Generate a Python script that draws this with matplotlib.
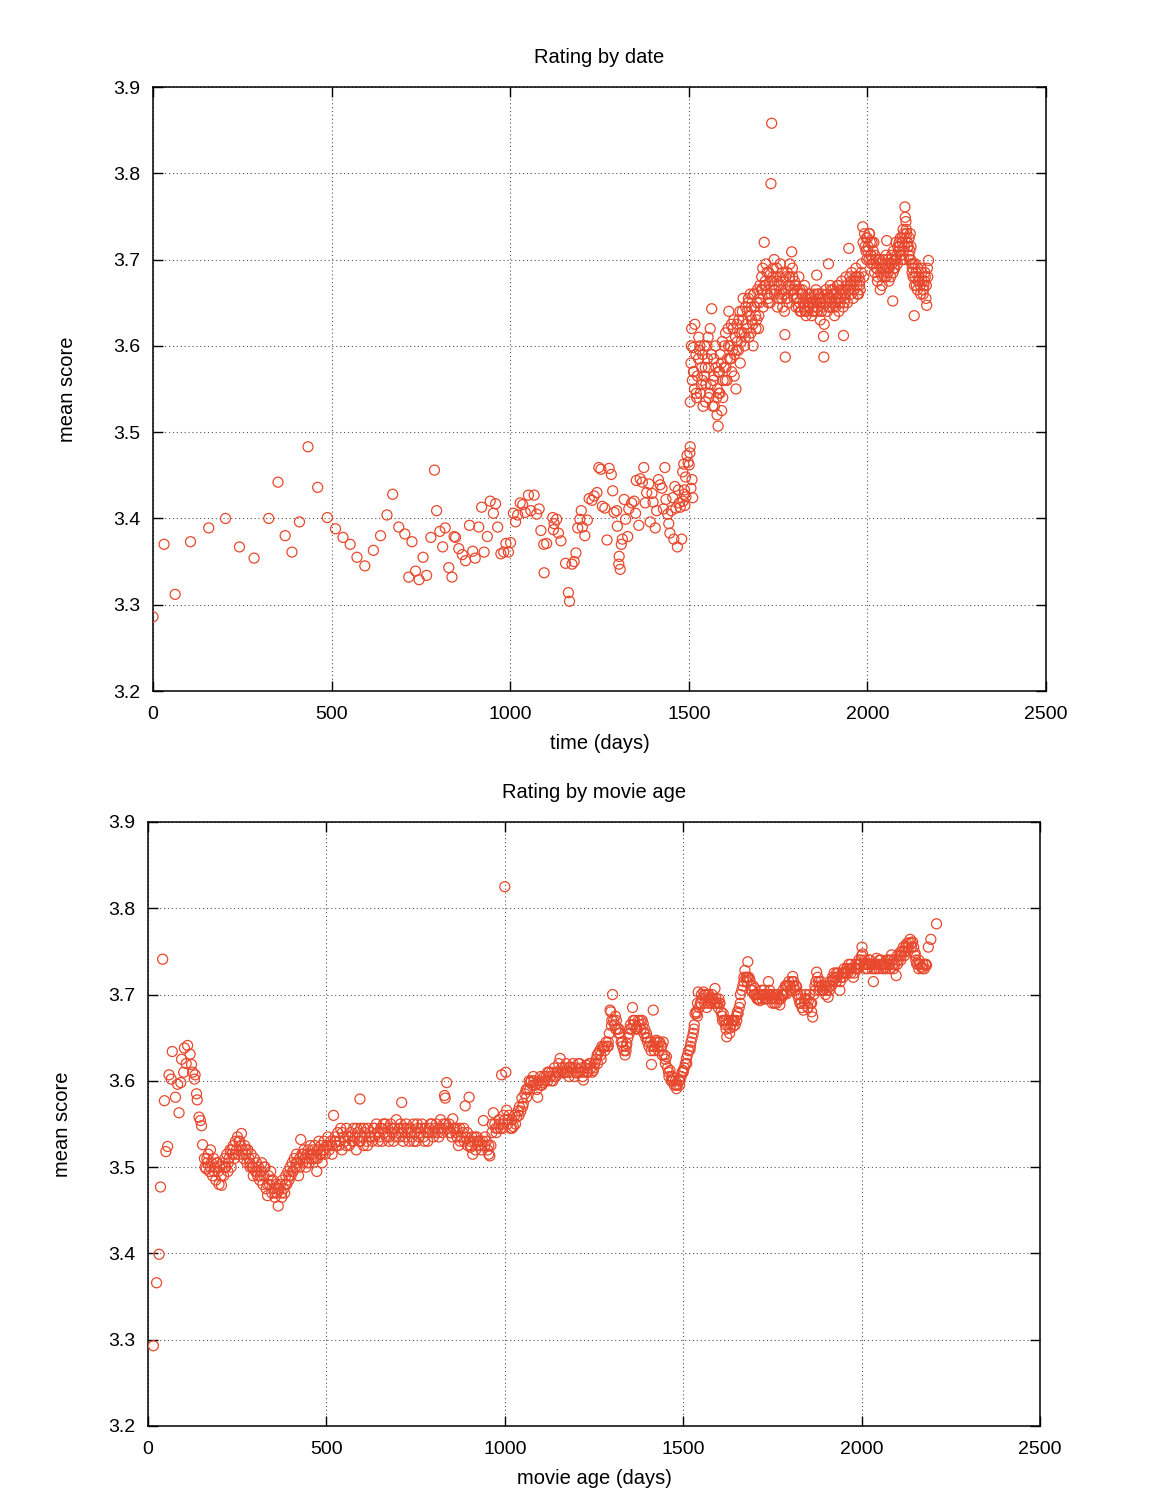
import matplotlib
matplotlib.use("Agg")
import matplotlib.pyplot as plt

# ---------------- Rating by date ----------------
date_days = [
    0, 31, 62, 105, 156, 203, 242, 283, 324, 350, 370, 389, 410, 434, 461, 488, 511, 532, 552, 571,
    593, 617, 637, 655, 671, 688, 705, 716, 725, 735, 745, 756, 766, 778, 788, 794, 803, 811, 818, 828,
    837, 843, 847, 856, 866, 875, 886, 895, 902, 912, 920, 927, 936, 944, 953, 959, 965, 974, 982, 988,
    995, 1001, 1009, 1015, 1021, 1028, 1035, 1042, 1051, 1058, 1067, 1074, 1081, 1086, 1094, 1095, 1102, 1119, 1121, 1123,
    1130, 1135, 1142, 1155, 1163, 1166, 1173, 1179, 1184, 1189, 1195, 1199, 1202, 1209, 1216, 1221, 1229, 1235, 1243, 1248,
    1254, 1258, 1265, 1271, 1277, 1283, 1287, 1291, 1298, 1300, 1304, 1305, 1308, 1311, 1314, 1319, 1323, 1329, 1332, 1340,
    1347, 1351, 1353, 1360, 1364, 1370, 1374, 1378, 1382, 1388, 1392, 1397, 1400, 1406, 1410, 1415, 1420, 1425, 1429, 1433,
    1436, 1441, 1444, 1447, 1451, 1455, 1458, 1461, 1464, 1468, 1471, 1473, 1476, 1480, 1483, 1484, 1486, 1487, 1488, 1489,
    1491, 1492, 1495, 1498, 1501, 1503, 1504, 1506, 1509, 1511,
    1504, 1506, 1508, 1510, 1512, 1516, 1520, 1524, 1528, 1532, 1536, 1540, 1544, 1548, 1552, 1556, 1560, 1564, 1568, 1572,
    1576, 1580, 1582, 1584, 1588, 1592, 1596, 1600, 1604, 1608, 1612, 1616, 1620, 1624, 1628, 1632, 1636, 1640, 1644, 1648,
    1652, 1656, 1660, 1664, 1668, 1672, 1676, 1680, 1684, 1688, 1692, 1696, 1700, 1704, 1708, 1711, 1712, 1716, 1720, 1724,
    1728, 1730, 1732, 1733, 1736, 1740, 1744, 1748, 1752, 1756, 1760, 1764, 1768, 1769, 1770, 1772, 1776, 1780, 1784, 1788,
    1790, 1792, 1796, 1800, 1804, 1808, 1812, 1816, 1820, 1824, 1828, 1832, 1836, 1840, 1844, 1848, 1852, 1856, 1858, 1860,
    1864, 1868, 1872, 1876, 1877, 1878, 1884, 1888, 1891, 1892, 1896, 1900, 1904, 1908, 1912, 1916, 1920, 1924, 1928, 1932,
    1933, 1936, 1940, 1944, 1948, 1952, 1956, 1960, 1964, 1968, 1972, 1976, 1980, 1984, 1987, 1988, 1992, 1996, 2000, 2004,
    2008, 2012, 2016, 2020, 2024, 2028, 2032, 2036, 2040, 2044, 2048, 2052, 2054, 2056, 2060, 2064, 2068, 2071, 2072, 2076,
    2080, 2084, 2088, 2092, 2096, 2100, 2104, 2105, 2106, 2108, 2112, 2116, 2120, 2124, 2128, 2131, 2132, 2136, 2140, 2144,
    2148, 2152, 2156, 2160, 2164, 2166, 2168, 2171,
    1514, 1522, 1530, 1538, 1546, 1554, 1562, 1570, 1578, 1586, 1594, 1602, 1610, 1618, 1626, 1634, 1642, 1650, 1658, 1666,
    1674, 1682, 1690, 1698, 1706, 1714, 1722, 1738, 1746, 1754, 1762, 1774, 1782, 1794, 1802, 1810, 1818, 1826, 1834, 1842,
    1850, 1862, 1870, 1882, 1894, 1902, 1910, 1918, 1926, 1938, 1946, 1954, 1962, 1970, 1978, 1990, 1998, 2002, 2006, 2010,
    2014, 2018, 2026, 2034, 2042, 2050, 2058, 2066, 2074, 2082, 2090, 2094, 2098, 2102, 2110, 2114, 2118, 2122, 2126, 2134,
    2142, 2150, 2158, 2162,
    1507, 1513, 1517, 1521, 1527, 1531, 1535, 1539, 1543, 1547, 1551, 1555, 1559, 1563, 1567, 1571, 1575, 1579, 1583, 1587,
    1591, 1595, 1599, 1603, 1607, 1611, 1615, 1619, 1623, 1627, 1631, 1635, 1639, 1643, 1647, 1651, 1655, 1659, 1663, 1667,
    1671, 1675, 1679, 1683, 1687, 1691, 1695, 1699, 1703, 1707, 1715, 1719, 1723, 1727, 1731, 1735, 1739, 1743, 1747, 1751,
    1755, 1759, 1763, 1767, 1771, 1775, 1779, 1783, 1787, 1791, 1795, 1799, 1803, 1807, 1811, 1815, 1819, 1823, 1827, 1831,
    1835, 1839, 1843, 1847, 1851, 1855, 1859, 1863, 1867, 1871, 1875, 1879, 1883, 1887, 1891, 1895, 1899, 1903, 1907, 1911,
    1915, 1919, 1923, 1927, 1931, 1935, 1939, 1943, 1947, 1951, 1955, 1959, 1963, 1967, 1971, 1975, 1979, 1983, 1993, 1997,
    2001, 2005, 2009, 2013, 2017, 2021, 2025, 2029, 2033, 2037, 2041, 2045, 2049, 2053, 2057, 2061, 2065, 2069, 2073, 2077,
    2081, 2085, 2089, 2093, 2097, 2101, 2103, 2107, 2109, 2113, 2117, 2119, 2121, 2125, 2129, 2133, 2137, 2141, 2145, 2149,
    2153, 2157, 2161, 2165, 2169,
]
date_scores = [
    3.286, 3.370, 3.312, 3.373, 3.389, 3.400, 3.367, 3.354, 3.400, 3.442, 3.380, 3.361, 3.396, 3.483, 3.436, 3.401, 3.388, 3.378, 3.370, 3.355,
    3.345, 3.363, 3.380, 3.404, 3.428, 3.390, 3.382, 3.332, 3.373, 3.339, 3.329, 3.355, 3.334, 3.378, 3.456, 3.409, 3.385, 3.367, 3.389, 3.343,
    3.332, 3.379, 3.378, 3.365, 3.358, 3.351, 3.392, 3.362, 3.354, 3.390, 3.413, 3.361, 3.379, 3.420, 3.406, 3.417, 3.390, 3.359, 3.361, 3.371,
    3.361, 3.372, 3.406, 3.396, 3.404, 3.418, 3.416, 3.407, 3.427, 3.409, 3.427, 3.405, 3.411, 3.386, 3.370, 3.337, 3.371, 3.401, 3.387, 3.394,
    3.399, 3.383, 3.374, 3.348, 3.314, 3.304, 3.347, 3.350, 3.360, 3.389, 3.399, 3.409, 3.390, 3.380, 3.398, 3.423, 3.421, 3.426, 3.430, 3.459,
    3.457, 3.414, 3.412, 3.375, 3.458, 3.451, 3.432, 3.407, 3.409, 3.391, 3.347, 3.356, 3.341, 3.370, 3.376, 3.422, 3.399, 3.379, 3.411, 3.418,
    3.420, 3.406, 3.444, 3.392, 3.446, 3.442, 3.459, 3.418, 3.430, 3.440, 3.396, 3.429, 3.419, 3.389, 3.409, 3.445, 3.439, 3.435, 3.411, 3.459,
    3.422, 3.405, 3.394, 3.383, 3.409, 3.424, 3.376, 3.437, 3.412, 3.367, 3.433, 3.418, 3.413, 3.376, 3.454, 3.420, 3.463, 3.428, 3.433, 3.415,
    3.448, 3.425, 3.473, 3.465, 3.462, 3.476, 3.483, 3.435, 3.445, 3.424,
    3.535, 3.580, 3.620, 3.560, 3.598, 3.550, 3.590, 3.565, 3.610, 3.545, 3.575, 3.530, 3.600, 3.556, 3.585, 3.540, 3.620, 3.643, 3.560, 3.530,
    3.575, 3.550, 3.507, 3.545, 3.590, 3.525, 3.560, 3.600, 3.575, 3.585, 3.640, 3.600, 3.570, 3.620, 3.590, 3.550, 3.605, 3.630, 3.580, 3.615,
    3.655, 3.600, 3.625, 3.640, 3.610, 3.660, 3.630, 3.600, 3.645, 3.620, 3.665, 3.635, 3.655, 3.680, 3.645, 3.720, 3.670, 3.695, 3.660, 3.685,
    3.650, 3.788, 3.858, 3.675, 3.690, 3.660, 3.680, 3.645, 3.670, 3.695, 3.655, 3.675, 3.640, 3.613, 3.587, 3.665, 3.685, 3.650, 3.670, 3.709,
    3.690, 3.660, 3.675, 3.645, 3.665, 3.680, 3.640, 3.660, 3.650, 3.670, 3.635, 3.655, 3.645, 3.660, 3.635, 3.650, 3.640, 3.665, 3.682, 3.645,
    3.655, 3.630, 3.660, 3.645, 3.611, 3.587, 3.665, 3.640, 3.695, 3.655, 3.670, 3.650, 3.665, 3.635, 3.655, 3.670, 3.640, 3.660, 3.675, 3.645,
    3.612, 3.665, 3.680, 3.650, 3.713, 3.670, 3.685, 3.655, 3.675, 3.690, 3.660, 3.680, 3.665, 3.695, 3.738, 3.720, 3.730, 3.710, 3.725, 3.700,
    3.720, 3.695, 3.710, 3.685, 3.700, 3.675, 3.695, 3.665, 3.690, 3.700, 3.680, 3.705, 3.722, 3.690, 3.675, 3.695, 3.705, 3.652, 3.685, 3.700,
    3.720, 3.695, 3.710, 3.725, 3.700, 3.735, 3.715, 3.761, 3.749, 3.744, 3.720, 3.705, 3.730, 3.695, 3.680, 3.635, 3.670, 3.685, 3.665, 3.680,
    3.670, 3.685, 3.660, 3.675, 3.655, 3.647, 3.690, 3.699,
    3.570, 3.540, 3.595, 3.560, 3.575, 3.610, 3.555, 3.585, 3.540, 3.570, 3.605, 3.560, 3.620, 3.585, 3.630, 3.595, 3.615, 3.640, 3.610, 3.650,
    3.615, 3.660, 3.630, 3.650, 3.665, 3.675, 3.650, 3.665, 3.690, 3.660, 3.685, 3.655, 3.680, 3.665, 3.655, 3.650, 3.665, 3.640, 3.650, 3.655,
    3.645, 3.660, 3.650, 3.655, 3.645, 3.660, 3.650, 3.655, 3.665, 3.655, 3.665, 3.675, 3.665, 3.680, 3.670, 3.680, 3.700, 3.715, 3.730, 3.705,
    3.700, 3.720, 3.690, 3.700, 3.680, 3.695, 3.685, 3.700, 3.690, 3.705, 3.715, 3.705, 3.720, 3.700, 3.730, 3.715, 3.700, 3.715, 3.690, 3.695,
    3.675, 3.690, 3.670, 3.680,
    3.600, 3.570, 3.625, 3.545, 3.585, 3.600, 3.555, 3.590, 3.565, 3.535, 3.600, 3.575, 3.545, 3.590, 3.530, 3.565, 3.600, 3.520, 3.570, 3.545,
    3.580, 3.540, 3.575, 3.615, 3.560, 3.600, 3.585, 3.625, 3.595, 3.565, 3.610, 3.625, 3.595, 3.640, 3.605, 3.630, 3.615, 3.645, 3.620, 3.655,
    3.635, 3.645, 3.625, 3.660, 3.635, 3.650, 3.620, 3.670, 3.665, 3.690, 3.670, 3.685, 3.655, 3.675, 3.660, 3.680, 3.700, 3.665, 3.675, 3.655,
    3.680, 3.665, 3.645, 3.660, 3.680, 3.655, 3.670, 3.695, 3.665, 3.680, 3.655, 3.670, 3.655, 3.645, 3.665, 3.640, 3.660, 3.645, 3.655, 3.640,
    3.660, 3.650, 3.655, 3.640, 3.660, 3.650, 3.640, 3.660, 3.650, 3.640, 3.655, 3.625, 3.650, 3.660, 3.645, 3.655, 3.665, 3.645, 3.660, 3.645,
    3.660, 3.670, 3.650, 3.655, 3.665, 3.650, 3.660, 3.670, 3.665, 3.680, 3.660, 3.675, 3.665, 3.680, 3.670, 3.660, 3.675, 3.685, 3.715, 3.725,
    3.710, 3.730, 3.705, 3.720, 3.695, 3.705, 3.690, 3.680, 3.700, 3.685, 3.670, 3.690, 3.695, 3.680, 3.700, 3.690, 3.680, 3.695, 3.710, 3.690,
    3.700, 3.715, 3.720, 3.705, 3.725, 3.710, 3.730, 3.725, 3.735, 3.715, 3.725, 3.710, 3.700, 3.685, 3.695, 3.680, 3.670, 3.690, 3.675, 3.660,
    3.675, 3.665, 3.685, 3.670, 3.680,
]

# ---------------- Rating by movie age ----------------
age_days = [
    15, 24, 31, 35, 41, 46, 50, 55, 59, 65, 68, 77, 83, 87, 92, 94, 100, 102, 107, 111,
    118, 122, 125, 130, 132, 136, 138, 143, 147, 150, 153, 158, 160, 163, 166, 169, 172, 175, 178, 181,
    184, 187, 190, 193, 196, 199, 202, 206, 209, 212, 215, 218, 221, 224, 227, 230, 233, 236, 239, 242,
    245, 248, 251, 254, 257, 260, 262, 265, 268, 271, 274, 277, 280, 283, 286, 289, 292, 295, 298, 301,
    304, 307, 310, 313, 316, 319, 322, 325, 328, 331, 335, 338, 341, 344, 347, 350, 353, 356, 359, 362,
    365, 368, 371, 374, 377, 380, 383, 386, 389, 392, 395, 398, 401, 404, 407, 410, 413, 416, 419, 422,
    425, 428, 431, 434, 437, 440, 443, 446, 449, 452, 455, 458, 461, 464, 467, 470, 473, 476, 479, 482,
    485, 488, 491, 494, 497, 500, 504, 508, 512, 516, 520, 524, 528, 532, 536, 540, 544, 548, 552, 556,
    560, 564, 568, 572, 576, 580, 584, 588, 592, 594, 596, 600, 604, 608, 612, 616, 620, 624, 628, 632,
    636, 640, 644, 648, 652, 656, 660, 664, 668, 672, 676, 680, 684, 688, 692, 696, 700, 704, 708, 711,
    712, 716, 720, 724, 728, 732, 736, 740, 744, 748, 752, 756, 760, 764, 768, 772, 776, 780, 784, 788,
    792, 796, 800, 804, 808, 812, 816, 820, 824, 828, 831, 833, 837, 840, 844, 848, 852, 854, 858, 862,
    866, 870, 874, 878, 882, 886, 889, 892, 896, 900, 902, 904, 908, 910, 914, 918, 922, 926, 930, 934,
    938, 940, 944, 948, 952, 955, 958, 961, 964, 968, 972, 976, 980, 984, 988, 991, 994, 997, 1000, 1001,
    1003, 1005, 1008, 1012, 1016, 1020, 1024, 1028, 1033, 1037, 1041, 1045, 1048, 1052, 1056, 1061, 1064, 1068, 1071, 1074,
    1078, 1082, 1086, 1090, 1092, 1096, 1100, 1104, 1108, 1112, 1116, 1120, 1124, 1127, 1131, 1135, 1139, 1143, 1147, 1151,
    1155, 1159, 1164, 1168, 1172, 1176, 1180, 1183, 1187, 1191, 1195, 1199, 1202, 1206, 1210, 1214, 1218, 1220, 1224, 1229,
    1233, 1237, 1241, 1245, 1248, 1252, 1256, 1259, 1262, 1266, 1269, 1272, 1276, 1280, 1284, 1287, 1290, 1293, 1295, 1297,
    1299, 1302, 1305, 1308, 1311, 1313, 1316, 1319, 1323, 1326, 1330, 1334, 1337, 1340, 1342, 1345, 1349, 1352, 1355, 1358,
    1361, 1364, 1367, 1370, 1374, 1378, 1382, 1385, 1388, 1392, 1395, 1397, 1400, 1404, 1408, 1411, 1414, 1416, 1419, 1422,
    1425, 1428, 1431, 1434, 1438, 1441, 1444, 1447, 1450, 1453, 1456, 1459, 1463, 1466, 1469, 1472, 1475, 1478, 1481, 1484,
    1488, 1491, 1494, 1497, 1500, 1503, 1506, 1509, 1512, 1515, 1519, 1522, 1525, 1528, 1531, 1533, 1536, 1538, 1540, 1542,
    1545, 1548, 1551, 1554, 1557, 1560, 1563, 1566, 1569, 1572, 1575, 1578, 1581, 1584, 1587, 1589, 1592, 1595, 1598, 1601,
    1603, 1606, 1609, 1612, 1615, 1618, 1620, 1622, 1625, 1628, 1631, 1634, 1637, 1640, 1643, 1646, 1649, 1652, 1654, 1657,
    1660, 1664, 1667, 1670, 1673, 1676, 1679, 1681, 1684, 1687, 1690, 1693, 1696, 1699, 1701, 1704, 1707, 1710, 1713, 1715,
    1718, 1721, 1724, 1727, 1730, 1733, 1736, 1739, 1742, 1745, 1748, 1751, 1753, 1756, 1759, 1762, 1765, 1768, 1771, 1774,
    1777, 1780, 1783, 1786, 1790, 1793, 1796, 1799, 1802, 1805, 1807, 1810, 1813, 1816, 1818, 1821, 1824, 1827, 1830, 1833,
    1837, 1840, 1843, 1846, 1849, 1851, 1854, 1857, 1860, 1863, 1866, 1869, 1872, 1874, 1877, 1880, 1883, 1886, 1889, 1893,
    1896, 1899, 1903, 1906, 1909, 1912, 1915, 1918, 1920, 1923, 1926, 1929, 1932, 1935, 1939, 1942, 1945, 1948, 1951, 1955,
    1958, 1961, 1964, 1967, 1970, 1973, 1977, 1980, 1983, 1986, 1989, 1992, 1995, 1998, 2001, 2003, 2006, 2009, 2012, 2014,
    2017, 2020, 2023, 2026, 2029, 2033, 2036, 2039, 2042, 2045, 2048, 2051, 2054, 2057, 2060, 2063, 2066, 2069, 2072, 2075,
    2078, 2081, 2084, 2087, 2090, 2093, 2097, 2100, 2103, 2106, 2108, 2111, 2114, 2117, 2120, 2123, 2126, 2129, 2132, 2136,
    2139, 2143, 2146, 2150, 2152, 2154, 2157, 2160, 2164, 2168, 2172, 2176, 2179, 2182, 2187, 2194, 2210,
    165, 175, 185, 195, 205, 215, 225, 235, 245, 255, 265, 275, 285, 295, 305, 315, 325, 335, 345, 355,
    365, 375, 385, 395, 405, 415, 425, 435, 445, 455, 465, 475, 485, 495, 505, 515, 525, 535, 545, 555,
    565, 575, 585, 595, 605, 615, 625, 635, 645, 655, 665, 675, 685, 695, 705, 715, 725, 735, 745, 755,
    765, 775, 785, 795, 805, 815, 825, 835, 845, 855, 865, 875, 885, 895, 905, 915, 925, 935, 945, 955,
    965, 975, 985, 995, 1010, 1020, 1030, 1040, 1050, 1060, 1070, 1080, 1090, 1100, 1110, 1120, 1130, 1140, 1150, 1160,
    1170, 1180, 1190, 1200, 1210, 1220, 1230, 1240, 1250, 1260, 1270, 1280, 1290, 1300, 1310, 1320, 1330, 1340, 1350, 1360,
    1370, 1380, 1390, 1400, 1410, 1420, 1430, 1440, 1450, 1460, 1470, 1480, 1490, 1500, 1510, 1520, 1530, 1540, 1550, 1560,
    1570, 1580, 1590, 1600, 1610, 1620, 1630, 1640, 1650, 1660, 1670, 1680, 1690, 1700, 1710, 1720, 1730, 1740, 1750, 1760,
    1770, 1780, 1790, 1800, 1810, 1820, 1830, 1840, 1850, 1860, 1870, 1880, 1890, 1900, 1910, 1920, 1930, 1940, 1950, 1960,
    1970, 1980, 1990, 2000, 2010, 2020, 2030, 2040, 2050, 2060, 2070, 2080, 2090, 2100, 2110, 2120, 2130, 2140, 2150, 2160,
    2170, 2180,
]
age_scores = [
    3.293, 3.366, 3.399, 3.477, 3.741, 3.577, 3.518, 3.524, 3.607, 3.602, 3.634, 3.581, 3.596, 3.563, 3.598, 3.625, 3.610, 3.638, 3.620, 3.641,
    3.631, 3.619, 3.610, 3.602, 3.607, 3.585, 3.578, 3.558, 3.554, 3.548, 3.526, 3.510, 3.500, 3.498, 3.505, 3.515, 3.495, 3.520, 3.505, 3.490,
    3.510, 3.500, 3.485, 3.505, 3.495, 3.480, 3.500, 3.479, 3.505, 3.490, 3.510, 3.500, 3.515, 3.495, 3.510, 3.520, 3.500, 3.515, 3.525, 3.510,
    3.530, 3.520, 3.535, 3.515, 3.530, 3.525, 3.539, 3.520, 3.510, 3.525, 3.515, 3.505, 3.520, 3.510, 3.500, 3.515, 3.500, 3.490, 3.510, 3.495,
    3.505, 3.490, 3.500, 3.485, 3.495, 3.505, 3.480, 3.490, 3.500, 3.475, 3.467, 3.490, 3.480, 3.495, 3.470, 3.485, 3.475, 3.465, 3.480, 3.470,
    3.455, 3.475, 3.480, 3.470, 3.485, 3.475, 3.470, 3.490, 3.480, 3.495, 3.485, 3.500, 3.490, 3.505, 3.495, 3.510, 3.500, 3.515, 3.505, 3.490,
    3.510, 3.532, 3.515, 3.505, 3.520, 3.510, 3.500, 3.515, 3.520, 3.505, 3.525, 3.510, 3.520, 3.515, 3.525, 3.510, 3.495, 3.520, 3.530, 3.515,
    3.525, 3.505, 3.520, 3.530, 3.515, 3.525, 3.535, 3.520, 3.530, 3.515, 3.560, 3.535, 3.525, 3.540, 3.530, 3.545, 3.520, 3.535, 3.530, 3.545,
    3.535, 3.525, 3.540, 3.530, 3.545, 3.535, 3.520, 3.540, 3.530, 3.579, 3.545, 3.535, 3.525, 3.540, 3.530, 3.545, 3.535, 3.540, 3.530, 3.545,
    3.535, 3.550, 3.540, 3.535, 3.545, 3.530, 3.550, 3.540, 3.535, 3.545, 3.535, 3.550, 3.540, 3.530, 3.545, 3.555, 3.540, 3.535, 3.550, 3.575,
    3.540, 3.545, 3.535, 3.550, 3.540, 3.530, 3.545, 3.535, 3.550, 3.540, 3.530, 3.545, 3.535, 3.540, 3.550, 3.535, 3.545, 3.540, 3.530, 3.545,
    3.550, 3.540, 3.535, 3.545, 3.550, 3.540, 3.545, 3.555, 3.545, 3.550, 3.583, 3.580, 3.598, 3.545, 3.550, 3.540, 3.535, 3.556, 3.545, 3.540,
    3.535, 3.525, 3.545, 3.535, 3.540, 3.530, 3.571, 3.535, 3.525, 3.581, 3.530, 3.523, 3.535, 3.515, 3.530, 3.520, 3.535, 3.525, 3.530, 3.520,
    3.530, 3.554, 3.525, 3.530, 3.520, 3.515, 3.513, 3.525, 3.540, 3.563, 3.550, 3.540, 3.545, 3.555, 3.545, 3.607, 3.550, 3.560, 3.825, 3.555,
    3.610, 3.566, 3.550, 3.560, 3.545, 3.555, 3.547, 3.560, 3.558, 3.565, 3.570, 3.565, 3.580, 3.574, 3.585, 3.581, 3.590, 3.600, 3.598, 3.600,
    3.595, 3.600, 3.595, 3.597, 3.581, 3.600, 3.605, 3.595, 3.598, 3.600, 3.605, 3.600, 3.610, 3.605, 3.610, 3.600, 3.615, 3.605, 3.610, 3.620,
    3.626, 3.610, 3.609, 3.615, 3.620, 3.610, 3.615, 3.616, 3.610, 3.620, 3.605, 3.615, 3.609, 3.620, 3.610, 3.615, 3.605, 3.601, 3.615, 3.618,
    3.610, 3.620, 3.615, 3.610, 3.612, 3.620, 3.625, 3.630, 3.632, 3.635, 3.630, 3.640, 3.639, 3.640, 3.645, 3.640, 3.645, 3.655, 3.682, 3.680,
    3.664, 3.700, 3.670, 3.665, 3.660, 3.670, 3.660, 3.655, 3.655, 3.645, 3.640, 3.635, 3.630, 3.640, 3.643, 3.650, 3.655, 3.665, 3.660, 3.685,
    3.665, 3.670, 3.660, 3.663, 3.670, 3.665, 3.660, 3.670, 3.666, 3.660, 3.650, 3.655, 3.645, 3.640, 3.645, 3.619, 3.640, 3.682, 3.635, 3.645,
    3.647, 3.640, 3.635, 3.645, 3.640, 3.630, 3.645, 3.630, 3.620, 3.628, 3.615, 3.610, 3.612, 3.600, 3.605, 3.603, 3.595, 3.600, 3.591, 3.595,
    3.600, 3.601, 3.605, 3.610, 3.612, 3.615, 3.620, 3.626, 3.630, 3.635, 3.636, 3.645, 3.650, 3.655, 3.665, 3.678, 3.680, 3.678, 3.690, 3.703,
    3.685, 3.690, 3.700, 3.695, 3.703, 3.690, 3.700, 3.685, 3.695, 3.700, 3.693, 3.690, 3.700, 3.695, 3.690, 3.707, 3.695, 3.690, 3.685, 3.690,
    3.690, 3.680, 3.675, 3.678, 3.670, 3.665, 3.660, 3.651, 3.665, 3.670, 3.661, 3.665, 3.670, 3.663, 3.670, 3.665, 3.675, 3.680, 3.678, 3.685,
    3.690, 3.705, 3.710, 3.715, 3.728, 3.720, 3.715, 3.738, 3.720, 3.717, 3.710, 3.705, 3.710, 3.700, 3.707, 3.700, 3.695, 3.700, 3.695, 3.693,
    3.700, 3.695, 3.700, 3.705, 3.700, 3.695, 3.700, 3.715, 3.705, 3.700, 3.695, 3.700, 3.697, 3.690, 3.695, 3.690, 3.700, 3.695, 3.688, 3.695,
    3.700, 3.705, 3.700, 3.710, 3.701, 3.710, 3.715, 3.710, 3.705, 3.715, 3.721, 3.710, 3.705, 3.710, 3.709, 3.700, 3.695, 3.690, 3.700, 3.685,
    3.682, 3.690, 3.700, 3.695, 3.685, 3.693, 3.700, 3.690, 3.680, 3.674, 3.700, 3.710, 3.715, 3.726, 3.720, 3.710, 3.705, 3.715, 3.710, 3.705,
    3.710, 3.700, 3.705, 3.697, 3.710, 3.715, 3.710, 3.720, 3.717, 3.725, 3.720, 3.715, 3.720, 3.725, 3.705, 3.720, 3.725, 3.720, 3.730, 3.725,
    3.730, 3.725, 3.735, 3.730, 3.725, 3.730, 3.720, 3.730, 3.735, 3.730, 3.735, 3.740, 3.735, 3.740, 3.755, 3.747, 3.735, 3.740, 3.735, 3.736,
    3.730, 3.735, 3.740, 3.735, 3.730, 3.715, 3.730, 3.735, 3.742, 3.735, 3.730, 3.735, 3.740, 3.735, 3.730, 3.735, 3.732, 3.730, 3.735, 3.740,
    3.735, 3.740, 3.746, 3.735, 3.730, 3.735, 3.722, 3.735, 3.740, 3.745, 3.749, 3.745, 3.750, 3.755, 3.750, 3.755, 3.759, 3.755, 3.760, 3.764,
    3.760, 3.761, 3.755, 3.748, 3.740, 3.736, 3.735, 3.730, 3.735, 3.732, 3.735, 3.730, 3.735, 3.734, 3.755, 3.764, 3.782,
    3.510, 3.500, 3.495, 3.505, 3.490, 3.500, 3.505, 3.520, 3.515, 3.530, 3.515, 3.520, 3.505, 3.500, 3.495, 3.490, 3.500, 3.480, 3.485, 3.470,
    3.475, 3.465, 3.480, 3.490, 3.495, 3.505, 3.500, 3.515, 3.505, 3.515, 3.510, 3.510, 3.515, 3.520, 3.525, 3.525, 3.530, 3.525, 3.540, 3.525,
    3.535, 3.530, 3.545, 3.530, 3.545, 3.525, 3.535, 3.545, 3.530, 3.545, 3.550, 3.530, 3.545, 3.535, 3.545, 3.530, 3.545, 3.540, 3.530, 3.550,
    3.545, 3.530, 3.540, 3.550, 3.540, 3.535, 3.540, 3.550, 3.540, 3.545, 3.545, 3.530, 3.545, 3.540, 3.525, 3.535, 3.530, 3.525, 3.535, 3.525,
    3.550, 3.545, 3.550, 3.545, 3.555, 3.545, 3.550, 3.560, 3.570, 3.590, 3.590, 3.605, 3.590, 3.595, 3.605, 3.610, 3.600, 3.605, 3.610, 3.615,
    3.610, 3.605, 3.615, 3.610, 3.620, 3.610, 3.610, 3.620, 3.615, 3.620, 3.625, 3.635, 3.640, 3.670, 3.675, 3.660, 3.645, 3.635, 3.660, 3.670,
    3.660, 3.670, 3.655, 3.650, 3.635, 3.640, 3.645, 3.640, 3.625, 3.605, 3.600, 3.595, 3.595, 3.610, 3.620, 3.640, 3.660, 3.675, 3.690, 3.700,
    3.690, 3.695, 3.690, 3.695, 3.670, 3.670, 3.655, 3.670, 3.670, 3.700, 3.720, 3.720, 3.705, 3.700, 3.695, 3.705, 3.695, 3.700, 3.690, 3.700,
    3.695, 3.700, 3.710, 3.705, 3.715, 3.700, 3.690, 3.695, 3.685, 3.690, 3.705, 3.715, 3.705, 3.710, 3.705, 3.715, 3.725, 3.715, 3.725, 3.730,
    3.735, 3.725, 3.730, 3.745, 3.730, 3.740, 3.735, 3.730, 3.740, 3.735, 3.740, 3.730, 3.740, 3.745, 3.740, 3.745, 3.750, 3.755, 3.745, 3.740,
    3.730, 3.735,
]

x_ticks = [0, 500, 1000, 1500, 2000, 2500]
y_ticks = [3.2, 3.3, 3.4, 3.5, 3.6, 3.7, 3.8, 3.9]

plt.rcParams['font.family'] = ['Liberation Sans', 'DejaVu Sans']
MARK = '#e8482c'

fig = plt.figure(figsize=(11.62, 15.04), dpi=100)
ax1 = fig.add_axes([153 / 1162, 1 - 691 / 1504, 893 / 1162, 604 / 1504])
ax2 = fig.add_axes([148 / 1162, 1 - 1426 / 1504, 892 / 1162, 604 / 1504])


def style(ax, xs, ys, title, xlabel):
    ax.scatter(xs, ys, s=52, facecolors='none', edgecolors=MARK, linewidths=0.9, zorder=3)
    ax.set_xlim(0, 2500)
    ax.set_ylim(3.2, 3.9)
    ax.set_xticks(x_ticks)
    ax.set_yticks(y_ticks)
    ax.set_xticklabels([str(t) for t in x_ticks])
    ax.set_yticklabels([f"{t:.1f}" for t in y_ticks])
    ax.grid(True, color='#555555', linestyle=(0, (1, 2.5)), linewidth=0.8, zorder=1)
    ax.tick_params(direction='in', length=7, width=1, top=True, right=True,
                   labelsize=14, colors='black')
    ax.tick_params(axis='x', pad=11)
    ax.tick_params(axis='y', pad=9)
    for sp in ax.spines.values():
        sp.set_linewidth(1.1)
        sp.set_color('black')
    ax.set_title(title, fontsize=14.5, pad=17)
    ax.set_xlabel(xlabel, fontsize=14.5)
    ax.set_ylabel('mean score', fontsize=14.5)
    ax.xaxis.set_label_coords(0.5, -0.072)
    ax.yaxis.set_label_coords(-0.085, 0.5)


style(ax1, date_days, date_scores, 'Rating by date', 'time (days)')
style(ax2, age_days, age_scores, 'Rating by movie age', 'movie age (days)')

fig.savefig('out.png', dpi=100)
